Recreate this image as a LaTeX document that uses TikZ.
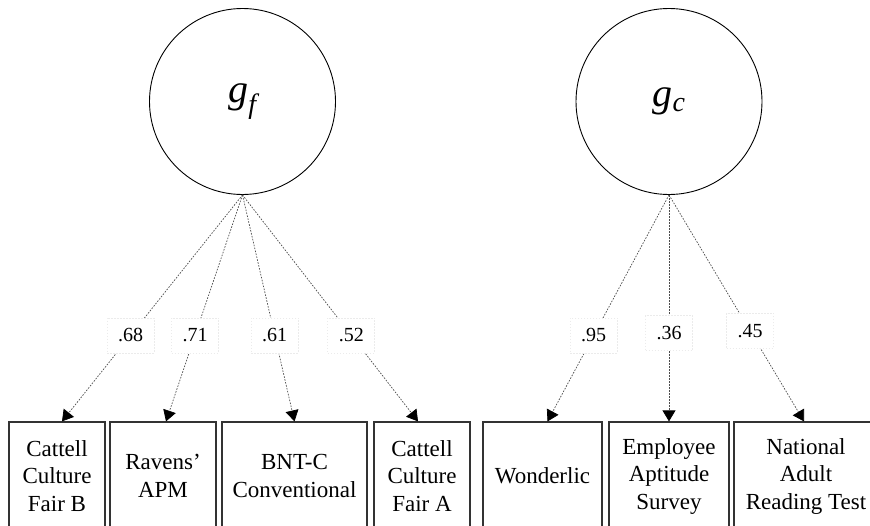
\documentclass[tikz,border=0pt]{standalone}
\usepackage{fontspec}
\setmainfont{Liberation Serif}
\usetikzlibrary{arrows.meta}
\tikzset{
  latent/.style={circle, draw, line width=0.9pt, minimum size=186pt, inner sep=0pt, font=\fontsize{40}{44}\selectfont\itshape},
  test/.style={rectangle, draw=black!80, line width=1.2pt, minimum height=108pt, inner sep=2pt, align=center, font=\fontsize{23}{27.5}\selectfont},
  load/.style={rectangle, draw=black!8, fill=white, minimum width=47pt, minimum height=35pt, inner sep=0pt, font=\fontsize{20}{24}\selectfont},
  loadline/.style={draw=black!70, line width=0.7pt, dash pattern=on 1.6pt off 1.4pt, -{Triangle[width=13pt,length=11pt,fill=black,color=black]}},
}

\begin{document}
\begin{tikzpicture}[x=1pt, y=-1pt]
  \useasboundingbox (0,0) rectangle (870,525);
  % factors
  \node[latent] (gf) at (242.5,101.5) {g\textsubscript{f}};
  \node[latent] (gc) at (669,101.5) {g\textsubscript{c}};
  % tests
  \node[test, minimum width=96pt]  (cfb) at (57,476)    {Cattell\\Culture\\Fair B};
  \node[test, minimum width=106pt] (apm) at (163,476)   {Ravens'\\APM};
  \node[test, minimum width=145pt] (bnt) at (294.5,476) {BNT-C\\Conventional};
  \node[test, minimum width=96pt]  (cfa) at (422,476)   {Cattell\\Culture\\Fair A};
  \node[test, minimum width=119pt] (won) at (542.5,476) {Wonderlic};
  \node[test, minimum width=120pt] (eas) at (669,476)   {Employee\\Aptitude\\Survey};
  \node[test, minimum width=144pt] (nart) at (806,476)  {National\\Adult\\Reading Test};
  % loadings
  \draw[loadline] (gf.south) -- node[load, pos=0.62] (lcfb) {.68} ([xshift=5pt]cfb.north);
  \draw[loadline] (gf.south) -- node[load, pos=0.62] (lapm) {.71} ([xshift=3pt]apm.north);
  \draw[loadline] (gf.south) -- node[load, pos=0.62] (lbnt) {.61} (bnt.north);
  \draw[loadline] (gf.south) -- node[load, pos=0.62] (lcfa) {.52} ([xshift=-4pt]cfa.north);
  \draw[loadline] (gc.south) -- node[load, pos=0.62] (lwon) {.95} ([xshift=5pt]won.north);
  \draw[loadline] (gc.south) -- node[load, pos=0.61] (leas) {.36} (eas.north);
  \draw[loadline] (gc.south) -- node[load, pos=0.6]  (lnart) {.45} ([xshift=-2pt]nart.north);
\end{tikzpicture}
\end{document}
